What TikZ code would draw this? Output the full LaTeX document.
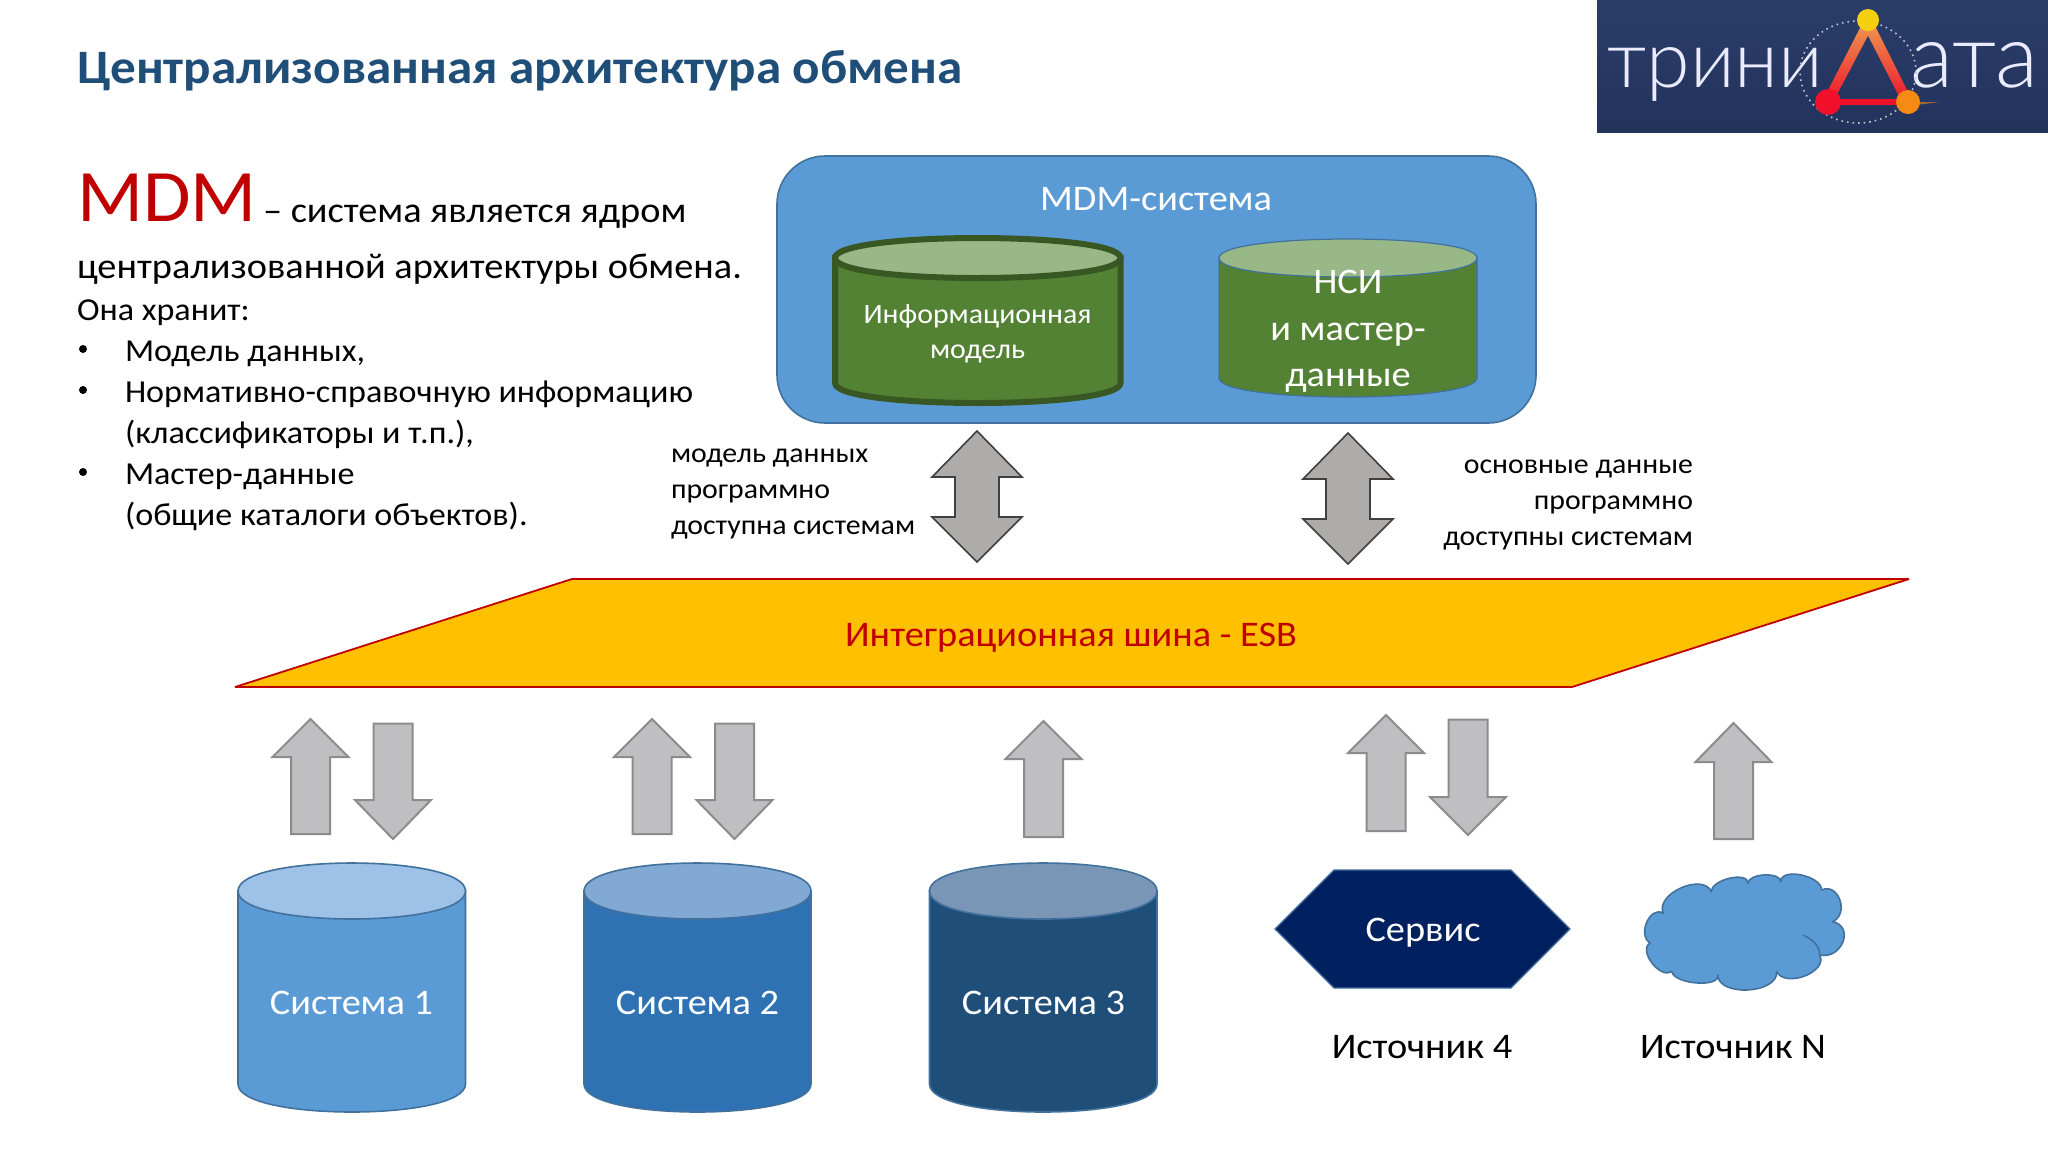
\documentclass[tikz,border=0pt]{standalone}
\usepackage{fontspec}
\setmainfont[FakeStretch=1.065]{Carlito}
\newfontfamily\logofont{Lato Light}
\usetikzlibrary{calc}
\definecolor{titleblue}{HTML}{1F4E79}
\definecolor{mdmred}{HTML}{C00000}
\definecolor{boxblue}{HTML}{5B9BD5}
\definecolor{edgeblue}{HTML}{41719C}
\definecolor{sysa}{HTML}{5B9BD5}
\definecolor{sysat}{HTML}{9DC1E7}
\definecolor{sysb}{HTML}{2E72B4}
\definecolor{sysbt}{HTML}{82A9D3}
\definecolor{sysc}{HTML}{1F4E79}
\definecolor{sysct}{HTML}{7A96B6}
\definecolor{grn}{HTML}{548235}
\definecolor{grnt}{HTML}{98B888}
\definecolor{grnd}{HTML}{385723}
\definecolor{arrowgrey}{HTML}{BFBEC1}
\definecolor{arrowedge}{HTML}{8C8C8C}
\definecolor{dblgrey}{HTML}{AEABAB}
\definecolor{busyellow}{HTML}{FFC000}
\definecolor{navy}{HTML}{002060}
\definecolor{logotop}{HTML}{2A3D69}
\definecolor{logobot}{HTML}{22335C}
\definecolor{logoyellow}{HTML}{F5D010}
\definecolor{logoorange}{HTML}{F58A14}
\definecolor{logored}{HTML}{F0102A}
\definecolor{logomid}{HTML}{EE9A50}
\newcommand{\fs}[1]{\fontsize{#1}{#1}\selectfont}
\tikzset{
  txt/.style={inner sep=0pt,outer sep=0pt,text=black},
  block/.style={fill=arrowgrey,draw=arrowedge,line width=1pt,line join=miter},
  dbl/.style={fill=dblgrey,draw=black!75,line width=.8pt,line join=miter},
  logoletters/.style={inner sep=0pt,text=white!92!blue,anchor=base west},
}
% up arrow: centre, top, shoulder, bottom
\newcommand{\uparr}[4]{\draw[block] (#1,#2) -- (#1+38,#3) -- (#1+19.5,#3) -- (#1+19.5,#4) -- (#1-19.5,#4) -- (#1-19.5,#3) -- (#1-38,#3) -- cycle;}
\newcommand{\downarr}[4]{\draw[block] (#1,#2) -- (#1-38,#3) -- (#1-19.5,#3) -- (#1-19.5,#4) -- (#1+19.5,#4) -- (#1+19.5,#3) -- (#1+38,#3) -- cycle;}
% double arrow: centre, top, shoulder, low shoulder, bottom
\newcommand{\dblarr}[5]{\draw[dbl] (#1,#2) -- (#1+45,#3) -- (#1+22,#3) -- (#1+22,#4) -- (#1+45,#4) -- (#1,#5) -- (#1-45,#4) -- (#1-22,#4) -- (#1-22,#3) -- (#1-45,#3) -- cycle;}
% cylinder: left, right, ytop, ybottom, ry, fill, topfill, edge, width
\newcommand{\cyl}[9]{%
  \draw[fill=#6,draw=#8,line width=#9] (#1,#3) -- (#1,#4) .. controls (#1,#4+1.333*#5) and (#2,#4+1.333*#5) .. (#2,#4) -- (#2,#3) -- cycle;
  \draw[fill=#7,draw=#8,line width=#9] (#1,#3) .. controls (#1,#3-1.333*#5) and (#2,#3-1.333*#5) .. (#2,#3) .. controls (#2,#3+1.333*#5) and (#1,#3+1.333*#5) .. (#1,#3) -- cycle;}
% cloud bump through a peak
\newcommand{\bp}[3]{.. controls ($0.3333*(#1)+1.3333*(#2)-0.6667*(#3)$) and ($0.3333*(#3)+1.3333*(#2)-0.6667*(#1)$) .. (#3)}
\begin{document}
\begin{tikzpicture}[x=0.5pt,y=-0.5pt]
\useasboundingbox (0,0) rectangle (2048,1152);
\fill[white] (0,0) rectangle (2048,1152);

% Logo
\shade[top color=logotop,bottom color=logobot] (1597,0) rectangle (2048,132);
\node[logoletters] (logoa) at (1607,87) {\resizebox{108pt}{!}{\logofont\fs{40}трини}};
\node[logoletters] (logob) at (1910,87) {\resizebox{64pt}{!}{\logofont\fs{40}ата}};
\draw[white!70!logotop,line width=.8pt,dotted] (1858,72) ellipse [x radius=58,y radius=51];
\coordinate (ly) at (1868,20);
\coordinate (lr) at (1828,102);
\coordinate (lo) at (1908,102);
\shade[top color=logomid,bottom color=logored] (1863,22) -- (1873,26) -- (1832,104) -- (1823,100) -- cycle;
\shade[top color=logomid,bottom color=logored] (1863,26) -- (1873,22) -- (1912,100) -- (1903,104) -- cycle;
\draw[logored,line width=3pt] (lr) -- (lo);
\fill[logoorange,opacity=.6] (lo) -- (1940,102) -- (1908,106) -- cycle;
\fill[logoyellow] (ly) circle [radius=11];
\fill[logored] (lr) circle [radius=13];
\fill[logoorange] (lo) circle [radius=12];

% Title and intro
\node[txt,anchor=base west,text=titleblue,font=\bfseries\fs{24}] (title) at (77,83) {Централизованная архитектура обмена};
\node[txt,anchor=base west,text=mdmred,font=\fs{37}] (mdm) at (77,221) {\scalebox{0.98}[1]{MDM}};
\node[txt,anchor=base west,font=\fs{18}] (l1) at (263,222) {– система является ядром};
\node[txt,anchor=base west,font=\fs{18}] (l2) at (77,278) {централизованной архитектуры обмена.};
\node[txt,anchor=base west,font=\fs{16}] (l3) at (77,320.5) {Она хранит:};
\node[txt,anchor=base west,font=\fs{16}] (l4) at (125,361.5) {Модель данных,};
\node[txt,anchor=base west,font=\fs{16}] (l5) at (125,402.5) {Нормативно-справочную информацию};
\node[txt,anchor=base west,font=\fs{16}] (l6) at (125,443.5) {(классификаторы и т.п.),};
\node[txt,anchor=base west,font=\fs{16}] (l7) at (125,484) {Мастер-данные};
\node[txt,anchor=base west,font=\fs{16}] (l8) at (125,525) {(общие каталоги объектов).};
\fill (83,349) circle [radius=4];
\fill (83,390) circle [radius=4];
\fill (83,472) circle [radius=4];

% MDM system
\draw[fill=boxblue,draw=edgeblue,line width=.8pt,rounded corners=24pt] (777,156) rectangle (1536,423);
\node[txt,text=white,anchor=base,font=\fs{18}] (mdmsys) at (1156,210) {MDM-система};
\cyl{835}{1120.5}{258}{383}{20}{grn}{grnt}{grnd}{3pt}
\node[txt,text=white,anchor=base,font=\fs{14}] (inf1) at (977.5,323) {Информационная};
\node[txt,text=white,anchor=base,font=\fs{14}] (inf2) at (977.5,358) {модель};
\cyl{1219}{1477}{258}{378}{19}{grn}{grnt}{edgeblue}{.6pt}
\node[txt,text=white,anchor=base,font=\fs{18}] (nsi1) at (1348,293.5) {НСИ};
\node[txt,text=white,anchor=base,font=\fs{18}] (nsi2) at (1348,340.5) {и мастер-};
\node[txt,text=white,anchor=base,font=\fs{18}] (nsi3) at (1348,386.5) {данные};

% Double arrows and captions
\dblarr{977}{431}{477}{517}{562}
\dblarr{1348}{433}{479}{519}{564}
\node[txt,anchor=base west,font=\fs{14}] (c1) at (671,462.5) {модель данных};
\node[txt,anchor=base west,font=\fs{14}] (c2) at (671,498.5) {программно};
\node[txt,anchor=base west,font=\fs{14}] (c3) at (671,534.5) {доступна системам};
\node[txt,anchor=base east,font=\fs{14}] (d1) at (1693,473) {основные данные};
\node[txt,anchor=base east,font=\fs{14}] (d2) at (1693,509) {программно};
\node[txt,anchor=base east,font=\fs{14}] (d3) at (1693,545) {доступны системам};

% ESB
\draw[fill=busyellow,draw=mdmred,line width=.9pt,line join=bevel] (572,579) -- (1909,579) -- (1572,687) -- (235,687) -- cycle;
\node[txt,text=mdmred,anchor=base,font=\fs{18}] (esb) at (1071,646) {Интеграционная шина - ESB};

% Small arrows
\uparr{310.5}{719}{757}{834}
\downarr{393}{839}{800}{723.5}
\uparr{652}{719}{757}{834}
\downarr{734.5}{839}{800}{723.5}
\uparr{1043.5}{721}{759}{837}
\uparr{1386}{715}{753}{831}
\downarr{1468}{835}{797}{719.5}
\uparr{1733.5}{723}{762}{839}

% Systems
\cyl{238}{465.5}{891}{1084}{28}{sysa}{sysat}{edgeblue}{.8pt}
\cyl{584}{811}{891}{1084}{28}{sysb}{sysbt}{edgeblue}{.8pt}
\cyl{929.5}{1157}{891}{1084}{28}{sysc}{sysct}{edgeblue}{.8pt}
\node[txt,text=white,anchor=base,font=\fs{18}] (s1) at (351.5,1014.5) {Система 1};
\node[txt,text=white,anchor=base,font=\fs{18}] (s2) at (697.5,1014.5) {Система 2};
\node[txt,text=white,anchor=base,font=\fs{18}] (s3) at (1043.5,1014.5) {Система 3};

% Service hexagon
\draw[fill=navy,draw=edgeblue,line width=.6pt] (1275,929) -- (1334,870) -- (1511,870) -- (1570,929) -- (1511,988) -- (1334,988) -- cycle;
\node[txt,text=white,anchor=base,font=\fs{18}] (svc) at (1423,941.5) {Сервис};
\node[txt,anchor=base,font=\fs{18}] (src4) at (1422,1058) {Источник 4};

% Cloud
\coordinate (a) at (1663.3,913.3); \coordinate (ap) at (1681,888);
\coordinate (b) at (1711.4,891.7); \coordinate (bp) at (1729.8,878.3);
\coordinate (c) at (1748.2,883.3); \coordinate (cp) at (1764.5,875);
\coordinate (d) at (1780.8,881.7); \coordinate (dp) at (1801.2,875);
\coordinate (e) at (1821.6,890);   \coordinate (ep) at (1840,900);
\coordinate (f) at (1832.7,921.7); \coordinate (fp) at (1843,942);
\coordinate (g) at (1819.6,955);   \coordinate (gp) at (1805,976);
\coordinate (h) at (1776.7,971.7); \coordinate (hp) at (1748.2,990);
\coordinate (i) at (1717.6,975);   \coordinate (ip) at (1697,983);
\coordinate (j) at (1671.8,971.7); \coordinate (jp) at (1652,963);
\coordinate (k) at (1650,943);     \coordinate (kp) at (1647,922);
\draw[fill=boxblue,draw=edgeblue,line width=.8pt,line join=round]
  (a) \bp{a}{ap}{b} \bp{b}{bp}{c} \bp{c}{cp}{d} \bp{d}{dp}{e} \bp{e}{ep}{f} \bp{f}{fp}{g}
  \bp{g}{gp}{h} \bp{h}{hp}{i} \bp{i}{ip}{j} \bp{j}{jp}{k} \bp{k}{kp}{a} -- cycle;
\draw[edgeblue,line width=.8pt] (1803,935) .. controls (1814,940) and (1820,947) .. (g);
\node[txt,anchor=base,font=\fs{18}] (srcn) at (1733,1058) {Источник N};
\end{tikzpicture}
\end{document}
